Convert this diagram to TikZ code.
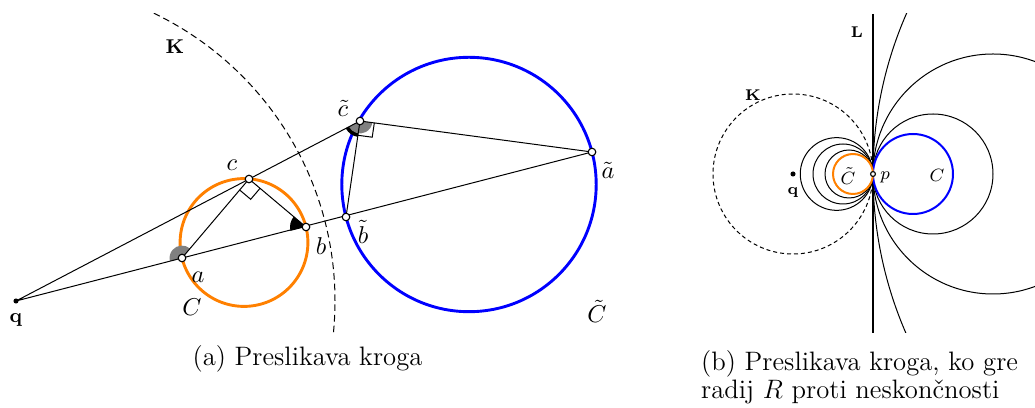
\documentclass[tikz,border=0pt]{standalone}
\usetikzlibrary{calc,angles}

\tikzset{
  pnt/.style={circle, draw, fill=white, line width=0.5pt, inner sep=0pt, minimum size=3.4pt},
  cnt/.style={circle, fill=black, inner sep=0pt, minimum size=2.3pt},
  krog/.style={line width=1.3pt},
  oznaka/.style={font=\fontsize{11}{13}\selectfont},
  napis/.style={font=\bfseries\small},
  majhen/.style={font=\bfseries\scriptsize},
  mala/.style={font=\footnotesize},
}

\begin{document}
\begin{tikzpicture}[x=0.45pt, y=0.45pt, line width=0.45pt]
    \useasboundingbox (0,0) rectangle (1035,-408);
    \coordinate (q) at (16,-301);
    \coordinate (a) at (182,-258);
    \coordinate (b) at (306,-227);
    \coordinate (c) at (249,-179);
    \coordinate (ta) at (592,-152);
    \coordinate (tb) at (346,-217);
    \coordinate (tc) at (360,-121);
    \begin{scope}
        \clip (0,-14) rectangle (660,-333);
        \draw[dash pattern=on 3pt off 1.8pt] (q) circle (319);
    \end{scope}
    \draw[krog, orange] ($(a)!0.5!(b)$) circle (63.9);
    \draw[krog, blue] ($(ta)!0.5!(tb)$) circle (127.2);
    \pic[fill=black, angle radius=7.2pt] {angle = c--b--a};
    \pic[fill=gray, angle radius=5.6pt] {angle = c--a--q};
    \pic[fill=black, angle radius=7.2pt] {angle = q--tc--tb};
    \pic[fill=gray, angle radius=5.6pt] {angle = q--tc--ta};
    \pic[draw, angle radius=6.5pt] {right angle = a--c--b};
    \pic[draw, angle radius=6.5pt] {right angle = tb--tc--ta};
    \draw (q) -- (ta) -- (tc) -- (q);
    \draw (a) -- (c) -- (b);
    \draw (tc) -- (tb);
    \node[cnt] (q-pt) at (q) {};
    \foreach \t in {a,b,c,ta,tb,tc}
        \node[pnt] (\t-pt) at (\t) {};
    \node[napis] (K-lab) at (175,-47) {K};
    \node[napis] (q-lab) at (16,-320) {q};
    \node[oznaka] (c-lab) at (232,-165) {$c$};
    \node[oznaka] (a-lab) at (198,-277) {$a$};
    \node[oznaka] (b-lab) at (321,-246) {$b$};
    \node[oznaka] (C-lab) at (192,-307) {$C$};
    \node[oznaka] (tc-lab) at (343,-108) {$\tilde c$};
    \node[oznaka] (tb-lab) at (363,-232) {$\tilde b$};
    \node[oznaka] (ta-lab) at (608,-170) {$\tilde a$};
    \node[oznaka] (tC-lab) at (597,-311) {$\tilde C$};
    \node[font=\large, anchor=base] (cap-a) at (307.5,-366) {(a) Preslikava kroga};

    \coordinate (q2) at (793,-174);
    \coordinate (p) at (873,-174);
    \coordinate (L1) at (873,-14);
    \coordinate (L2) at (873,-333);
    \begin{scope}
        \clip (690,-14) rectangle (1035,-333);
        \draw[line width=0.75pt] (L1) -- (L2);
        \draw[dash pattern=on 1.8pt off 1.35pt] (q2) circle (80);
        \foreach \r in {60,120,400} {
            \pgfmathsetmacro\rr{80/(80/\r+2)}
            \draw (p) ++(\r,0) circle (\r);
            \draw (p) ++(-\rr,0) circle (\rr);
        }
        \draw[line width=0.9pt, blue] (p) ++(40,0) circle (40);
        \draw[line width=0.9pt, orange] (p) ++(-20,0) circle (20);
    \end{scope}
    \node[cnt] (q2-pt) at (q2) {};
    \node[pnt, minimum size=2.2pt] (p-pt) at (p) {};
    \node[majhen] (L-lab) at (857,-32) {L};
    \node[majhen] (K2-lab) at (753,-95) {K};
    \node[majhen] (q2-lab) at (793,-193) {q};
    \node[mala] (p-lab) at (885,-177) {$p$};
    \node[mala] (tC2-lab) at (848,-176) {$\tilde C$};
    \node[mala] (C2-lab) at (937,-175) {$C$};
    \node[font=\large, align=left, anchor=north west, inner sep=0pt] (cap-b) at (700.7,-350)
        {(b) Preslikava kroga, ko gre\\[-1.3pt] radij $R$ proti neskončnosti};
\end{tikzpicture}
\end{document}
